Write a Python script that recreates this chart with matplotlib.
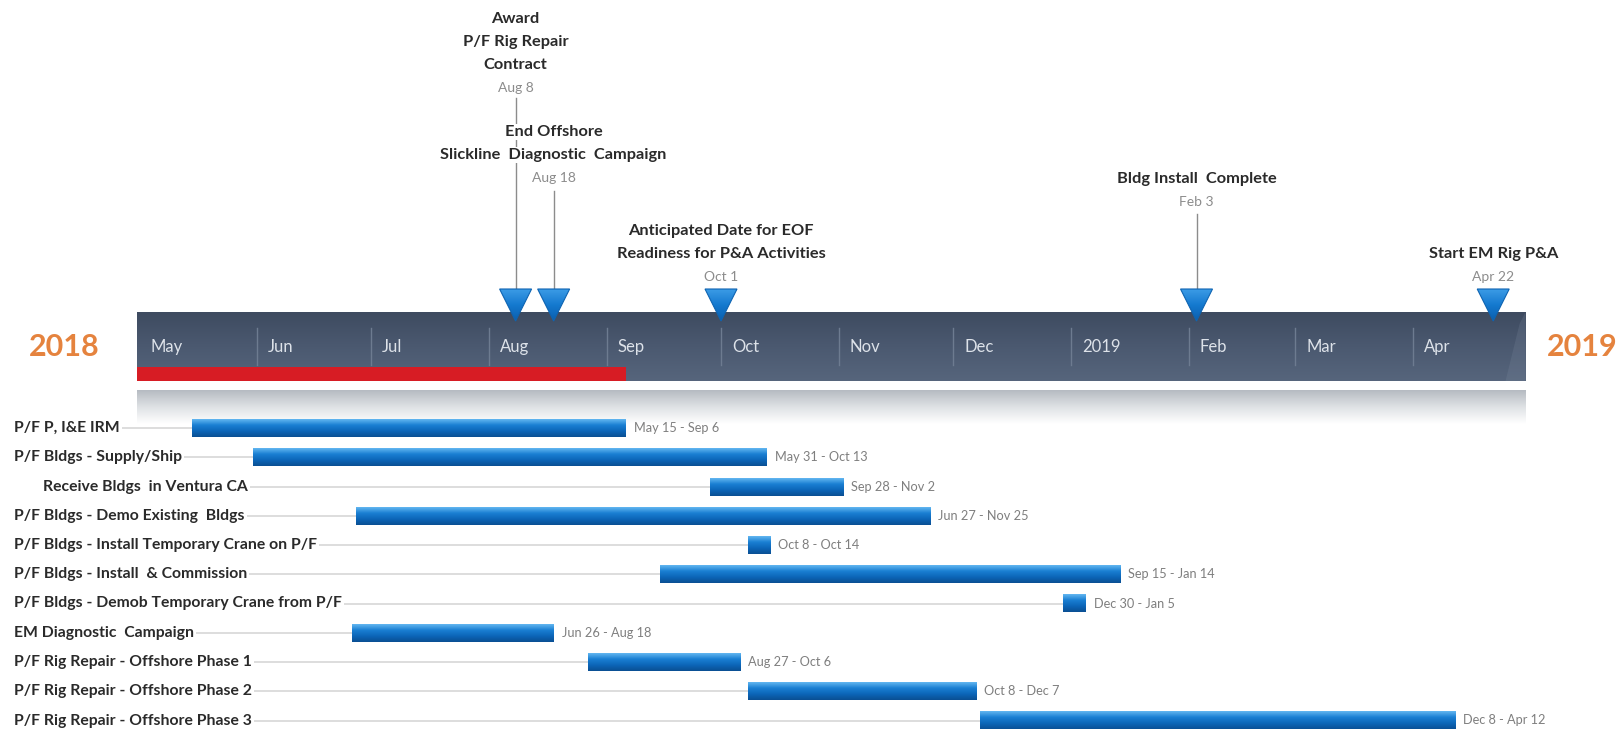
import matplotlib
matplotlib.use("Agg")
import matplotlib.pyplot as plt
import matplotlib.dates as mdates
from matplotlib.patches import Polygon, Rectangle
from matplotlib.colors import LinearSegmentedColormap
import numpy as np
import pandas as pd

plt.rcParams["font.family"] = ["Lato", "DejaVu Sans"]

# =========================================================
# Datos
# =========================================================
task_names = [
    "P/F P, I&E IRM",
    "P/F Bldgs - Supply/Ship",
    "Receive Bldgs  in Ventura CA",
    "P/F Bldgs - Demo Existing  Bldgs",
    "P/F Bldgs - Install Temporary Crane on P/F",
    "P/F Bldgs - Install  & Commission",
    "P/F Bldgs - Demob Temporary Crane from P/F",
    "EM Diagnostic  Campaign",
    "P/F Rig Repair - Offshore Phase 1",
    "P/F Rig Repair - Offshore Phase 2",
    "P/F Rig Repair - Offshore Phase 3",
]
task_starts = ["2018-05-15", "2018-05-31", "2018-09-28", "2018-06-27", "2018-10-08",
               "2018-09-15", "2018-12-30", "2018-06-26", "2018-08-27", "2018-10-08",
               "2018-12-08"]
task_ends = ["2018-09-06", "2018-10-13", "2018-11-02", "2018-11-25", "2018-10-14",
             "2019-01-14", "2019-01-05", "2018-08-18", "2018-10-06", "2018-12-07",
             "2019-04-12"]
indented_tasks = ["Receive Bldgs  in Ventura CA"]

milestone_titles = [
    ["Award", "P/F Rig Repair", "Contract"],
    ["End Offshore", "Slickline  Diagnostic  Campaign"],
    ["Anticipated Date for EOF", "Readiness for P&A Activities"],
    ["Bldg Install  Complete"],
    ["Start EM Rig P&A"],
]
milestone_dates = ["2018-08-08", "2018-08-18", "2018-10-01", "2019-02-03", "2019-04-22"]

month_ticks = ["2018-05-01", "2018-06-01", "2018-07-01", "2018-08-01", "2018-09-01",
               "2018-10-01", "2018-11-01", "2018-12-01", "2019-01-01", "2019-02-01",
               "2019-03-01", "2019-04-01"]
month_labels = ["May", "Jun", "Jul", "Aug", "Sep", "Oct", "Nov", "Dec", "2019",
                "Feb", "Mar", "Apr"]
year_labels = ["2018", "2019"]
timeline_start = "2018-05-01"
timeline_end = "2019-05-01"
status_date = "2018-09-06"

# =========================================================
# Layout (pixeles de la figura)
# =========================================================
W, H = 1618, 729
X0_PX = 139          # posicion de timeline_start
PX_DAY = 3.804       # px por dia

BAND_TOP, BAND_BOT = 312, 381
RED_TOP = 367
SHADOW_TOP, SHADOW_BOT = 390, 424
LABEL_Y = 347
ROW_Y0, ROW_DY = 428, 29.25
BAR_H = 18

# posicion vertical de la fecha de cada hito / inicio del tallo
ms_date_y = [88, 178, 277, 202, 277]
ms_stem_top = [98, 191, None, 214, None]
TRI_TOP, TRI_TIP, TRI_HALF = 289, 321, 16

DARK = "#2a2a2a"


def d2n(s):
    return mdates.date2num(pd.Timestamp(s))


def fmt(s):
    t = pd.Timestamp(s)
    return f"{t:%b} {t.day}"


origin = d2n(timeline_start)
x_left = origin - X0_PX / PX_DAY
x_right = origin + (W - X0_PX) / PX_DAY

fig = plt.figure(figsize=(W / 100, H / 100), dpi=100)
ax = fig.add_axes([0, 0, 1, 1])

band_l = origin - 0.5
band_r = d2n(timeline_end) - 0.5
grad = np.linspace(0, 1, 64).reshape(-1, 1)

# ===== Banda principal =====
cm_band = LinearSegmentedColormap.from_list("band", ["#3e4b60", "#4b5970", "#56657c"])
ax.imshow(grad, extent=(band_l, band_r, BAND_BOT, BAND_TOP), origin="upper",
          aspect="auto", cmap=cm_band, zorder=1)
# bisel derecho (sutil)
bev = 20 / PX_DAY
ax.add_patch(Polygon([(band_r - bev, BAND_BOT), (band_r, BAND_BOT), (band_r, BAND_TOP),
                      (band_r - bev * 0.3, BAND_TOP + 12)],
                     closed=True, facecolor="#8a97ab", alpha=0.18, edgecolor="none", zorder=2))

# sombra inferior
cm_sh = LinearSegmentedColormap.from_list("sh", ["#b6bbc2", "#dfe2e5", "#ffffff"])
ax.imshow(grad, extent=(band_l, band_r, SHADOW_BOT, SHADOW_TOP), origin="upper",
          aspect="auto", cmap=cm_sh, zorder=1)

# barra de avance
ax.add_patch(Rectangle((band_l, RED_TOP), d2n(status_date) - band_l, BAND_BOT - RED_TOP,
                       facecolor="#d71c24", edgecolor="none", zorder=3))

# separadores y meses
for i, (m, lab) in enumerate(zip(month_ticks, month_labels)):
    x = d2n(m)
    if i > 0:
        ax.plot([x, x], [BAND_TOP + 16, RED_TOP - 2], color="#6d7b90", lw=1, zorder=2)
    ax.annotate(lab, (x, LABEL_Y), xytext=(11, 0), textcoords="offset pixels",
                ha="left", va="center", fontsize=12, color="#dde2e9", zorder=4)

# años
ax.annotate(year_labels[0], (band_l, LABEL_Y), xytext=(-73, 0), textcoords="offset pixels",
            ha="center", va="center", fontsize=22, fontweight="bold", color="#e5833e")
ax.annotate(year_labels[1], (band_r, LABEL_Y), xytext=(57, 0), textcoords="offset pixels",
            ha="center", va="center", fontsize=22, fontweight="bold", color="#e5833e")

# ===== Hitos =====
cm_tri = LinearSegmentedColormap.from_list("tri", ["#3b9be6", "#1479cf", "#0b5fae"])
half = TRI_HALF / PX_DAY
for titles, d, dy, st in zip(milestone_titles, milestone_dates, ms_date_y, ms_stem_top):
    x = d2n(d)
    if st is not None:
        ax.plot([x, x], [st, TRI_TOP + 2], color="#8c8c8c", lw=1, zorder=2)
    tri = Polygon([(x - half, TRI_TOP), (x + half, TRI_TOP), (x, TRI_TIP)],
                  closed=True, facecolor="none", edgecolor="#0e64b2", lw=0.8, zorder=6)
    ax.add_patch(tri)
    im = ax.imshow(grad, extent=(x - half, x + half, TRI_TIP, TRI_TOP), origin="upper",
                   aspect="auto", cmap=cm_tri, zorder=5)
    im.set_clip_path(tri)
    ax.text(x, dy, fmt(d), ha="center", va="center", fontsize=10, color="#8c8c8c", zorder=4)
    for k, line in enumerate(reversed(titles)):
        ax.text(x, dy - 23 * (k + 1), line, ha="center", va="center", fontsize=11.8,
                fontweight="bold", color=DARK, zorder=4,
                bbox=dict(facecolor="white", edgecolor="none", pad=1))

# ===== Tareas =====
cm_bar = LinearSegmentedColormap.from_list("bar", ["#62b6f0", "#1a7fd3", "#0c66b8", "#0a4f93"])
lab_x = x_left + 14 / PX_DAY
lab_x_ind = x_left + 43 / PX_DAY
for i, (name, s, e) in enumerate(zip(task_names, task_starts, task_ends)):
    y = ROW_Y0 + i * ROW_DY
    xs, xe = d2n(s), d2n(e)
    lx = lab_x_ind if name in indented_tasks else lab_x
    ax.plot([lx, xs], [y, y], color="#dadada", lw=1.3, zorder=1)
    ax.text(lx, y, name, ha="left", va="center", fontsize=11.3, fontweight="bold",
            color=DARK, zorder=3,
            bbox=dict(facecolor="white", edgecolor="none", pad=1.5))
    ax.imshow(grad, extent=(xs, xe, y + BAR_H / 2, y - BAR_H / 2), origin="upper",
              aspect="auto", cmap=cm_bar, zorder=3)
    ax.annotate(f"{fmt(s)} - {fmt(e)}", (xe, y), xytext=(8, 0), textcoords="offset pixels",
                ha="left", va="center", fontsize=9.2, color="#7f7f7f", zorder=4)

ax.set_xlim(x_left, x_right)
ax.set_ylim(H, 0)
ax.set_xticks([])
ax.set_yticks([])
for spine in ax.spines.values():
    spine.set_visible(False)

fig.savefig("out.png", dpi=100)
plt.close(fig)
